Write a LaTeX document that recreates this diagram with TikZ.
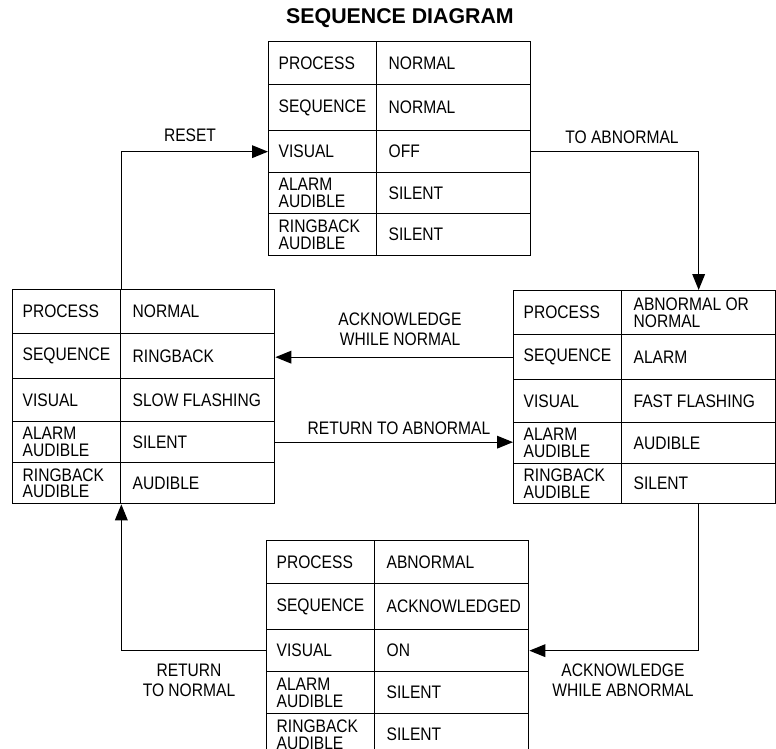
\documentclass[tikz,border=0pt]{standalone}
\usepackage{fontspec}
\setmainfont{Liberation Sans}[FakeStretch=0.86]
\newfontfamily\titlefont{Liberation Sans}
\usetikzlibrary{arrows.meta}
\tikzset{
  cellbase/.style={draw, line width=1pt, anchor=north west, align=flush left, inner ysep=1pt,
    font=\fontsize{13.6}{12.5}\selectfont},
  cella/.style={cellbase, text width=66pt, inner xsep=7.5pt},
  cellb/.style={cellbase, text width=97.5pt, inner xsep=9pt},
  conn/.style={draw, line width=1pt, -{Triangle[length=12pt,width=9.5pt]}},
  lbl/.style={align=center, inner sep=0pt, font=\fontsize{13.6}{15}\selectfont},
}
% name, x, y, height (px), left text, right text
\newcommand\seqrow[6]{%
  \node[cella, minimum height=#4*0.75pt] (#1a) at (#2,#3) {#5};
  \node[cellb, minimum height=#4*0.75pt] (#1b) at (#2+108,#3) {#6};
}
\begin{document}
\begin{tikzpicture}[x=0.75pt,y=-0.75pt]
\useasboundingbox (0,0) rectangle (776,749);
\clip (0,0) rectangle (776,749);

\node[font=\titlefont\bfseries\fontsize{16}{19}\selectfont] (title) at (400,18) {SEQUENCE DIAGRAM};

% top table
\seqrow{t1}{268}{41}{43}{PROCESS}{NORMAL}
\seqrow{t2}{268}{84}{46}{SEQUENCE}{NORMAL}
\seqrow{t3}{268}{130}{42}{VISUAL}{OFF}
\seqrow{t4}{268}{172}{41}{ALARM\\AUDIBLE}{SILENT}
\seqrow{t5}{268}{213}{42}{RINGBACK\\AUDIBLE}{SILENT}

% left table
\seqrow{l1}{12}{289}{44}{PROCESS}{NORMAL}
\seqrow{l2}{12}{333}{45}{SEQUENCE}{RINGBACK}
\seqrow{l3}{12}{378}{43}{VISUAL}{SLOW FLASHING}
\seqrow{l4}{12}{421}{41}{ALARM\\AUDIBLE}{SILENT}
\seqrow{l5}{12}{462}{41}{RINGBACK\\AUDIBLE}{AUDIBLE}

% right table
\seqrow{r1}{513}{290}{44}{PROCESS}{ABNORMAL OR\\NORMAL}
\seqrow{r2}{513}{334}{45}{SEQUENCE}{ALARM}
\seqrow{r3}{513}{379}{43}{VISUAL}{FAST FLASHING}
\seqrow{r4}{513}{422}{41}{ALARM\\AUDIBLE}{AUDIBLE}
\seqrow{r5}{513}{463}{40}{RINGBACK\\AUDIBLE}{SILENT}

% bottom table
\seqrow{b1}{266}{540}{43}{PROCESS}{ABNORMAL}
\seqrow{b2}{266}{583}{46}{SEQUENCE}{ACKNOWLEDGED}
\seqrow{b3}{266}{629}{42}{VISUAL}{ON}
\seqrow{b4}{266}{671}{42}{ALARM\\AUDIBLE}{SILENT}
\seqrow{b5}{266}{713}{42}{RINGBACK\\AUDIBLE}{SILENT}

% connectors
\draw[conn] (l1a.north east) |- (t3a.west);
\draw[conn] (t3b.east) -| (r1b.north);
\draw[conn] (r2a.west) -- (r2a.west -| l2b.east);
\draw[conn] (l4b.east) -- (l4b.east -| r4a.west);
\draw[conn] (r5b.south) |- (b3b.east);
\draw[conn] (b3a.west) -| (l5a.south east);

% labels
\node[lbl] (lreset) at (190,135) {RESET};
\node[lbl] (ltoab) at (622,137) {TO ABNORMAL};
\node[lbl] (lackn) at (400,329) {ACKNOWLEDGE\\WHILE NORMAL};
\node[lbl] (lretab) at (399,428) {RETURN TO ABNORMAL};
\node[lbl] (lackab) at (623,680) {ACKNOWLEDGE\\WHILE ABNORMAL};
\node[lbl] (lretn) at (189,680) {RETURN\\TO NORMAL};
\end{tikzpicture}
\end{document}
